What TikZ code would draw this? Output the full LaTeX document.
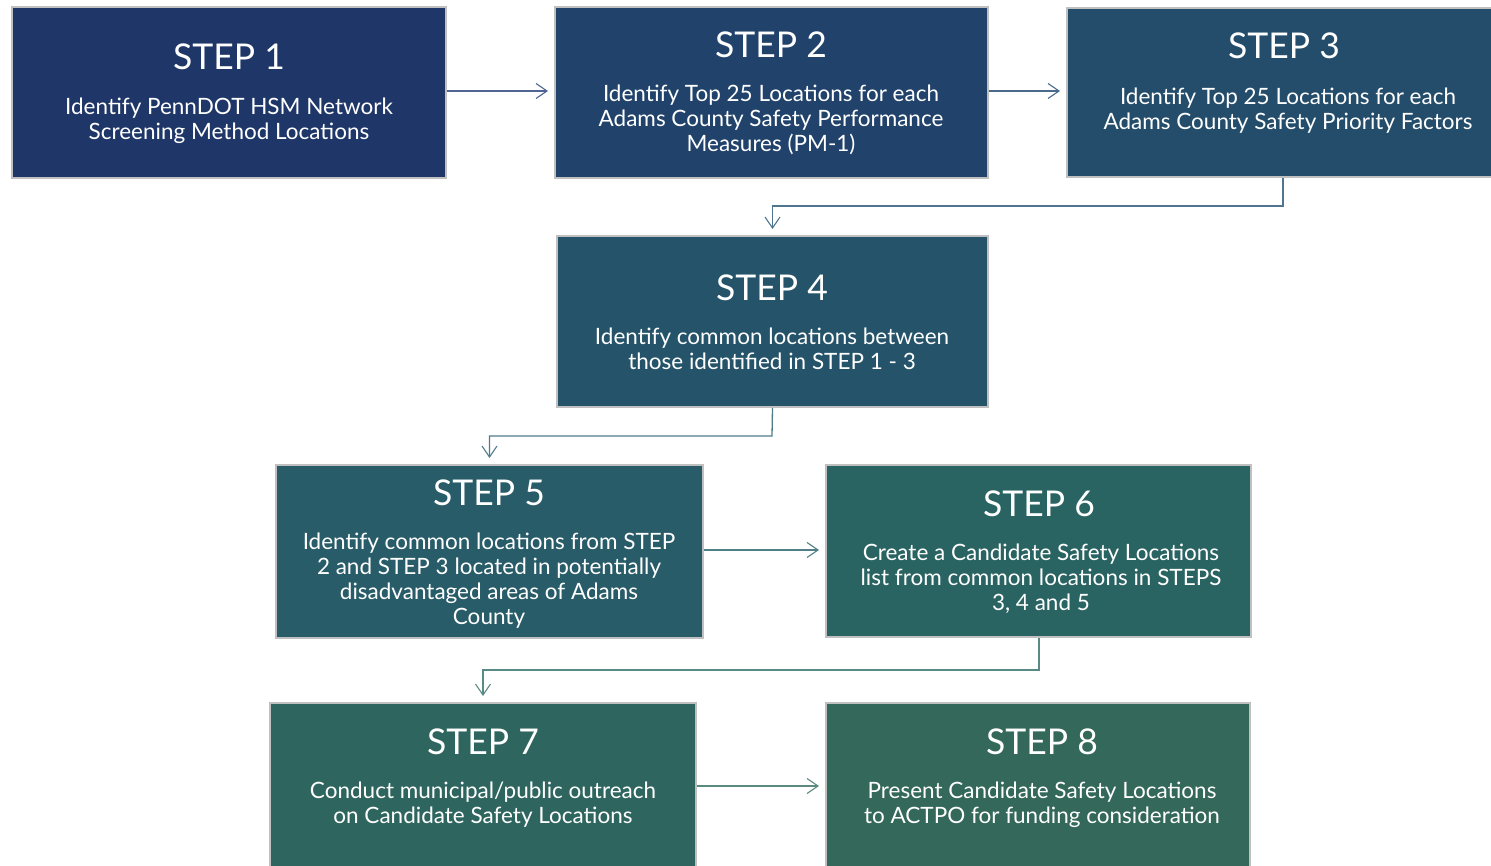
\documentclass[tikz,border=0pt]{standalone}
\usepackage{fontspec}
\setmainfont{Lato}
\usetikzlibrary{arrows.meta}
\definecolor{c1}{HTML}{1F3668}
\definecolor{c2}{HTML}{21436B}
\definecolor{c3}{HTML}{244D6B}
\definecolor{c4}{HTML}{25546A}
\definecolor{c5}{HTML}{285C68}
\definecolor{c6}{HTML}{2A6462}
\definecolor{c7}{HTML}{2E665F}
\definecolor{c8}{HTML}{33685A}
\definecolor{a1}{HTML}{4D6590}
\definecolor{a2}{HTML}{4A6A8C}
\definecolor{a3}{HTML}{4F7590}
\definecolor{a4}{HTML}{4F7C8A}
\definecolor{a5}{HTML}{4F8086}
\definecolor{a6}{HTML}{5A8A85}
\definecolor{a7}{HTML}{5A8A80}
\definecolor{edgegray}{HTML}{C0C0C0}
\tikzset{
  stepbox/.style={draw=edgegray, line width=2pt, rectangle, inner sep=0pt},
  steptitle/.style={text=white, inner sep=0pt, font=\fontsize{35.5}{38}\selectfont},
  stepbody/.style={text=white, inner sep=0pt, align=center, font=\fontsize{22.5}{25}\selectfont},
  conn/.style={line width=1.3pt, -{Straight Barb[length=11pt,width=15pt,line width=1.1pt]}},
}
\begin{document}
\begin{tikzpicture}[x=1pt,y=-1pt]
\useasboundingbox (0,0) rectangle (1491,866);
\clip (0,0) rectangle (1491,866);
% boxes
\node[stepbox, fill=c1, minimum width=434, minimum height=171] (s1) at (229,92.5) {};
\node[stepbox, fill=c2, minimum width=433, minimum height=171] (s2) at (771.5,92.5) {};
\node[stepbox, fill=c3, minimum width=433, minimum height=169] (s3) at (1283.5,92.5) {};
\node[stepbox, fill=c4, minimum width=431, minimum height=171] (s4) at (772.5,321.5) {};
\node[stepbox, fill=c5, minimum width=427, minimum height=173] (s5) at (489.5,551.5) {};
\node[stepbox, fill=c6, minimum width=425, minimum height=172] (s6) at (1038.5,551) {};
\node[stepbox, fill=c7, minimum width=426, minimum height=172] (s7) at (483,789) {};
\node[stepbox, fill=c8, minimum width=424, minimum height=172] (s8) at (1038,789) {};
% texts
\node[steptitle] (t1) at (229,57) {STEP 1};
\node[stepbody] (b1) at (229,121) {Identify PennDOT HSM Network\\Screening Method Locations};
\node[steptitle] (t2) at (771,45) {STEP 2};
\node[stepbody] (b2) at (771,120) {Identify Top 25 Locations for each\\Adams County Safety Performance\\Measures (PM-1)};
\node[steptitle] (t3) at (1284,46) {STEP 3};
\node[stepbody] (b3) at (1288,110.5) {Identify Top 25 Locations for each\\Adams County Safety Priority Factors};
\node[steptitle] (t4) at (772,288) {STEP 4};
\node[stepbody] (b4) at (772,349) {Identify common locations between\\those identified in STEP 1 - 3};
\node[steptitle] (t5) at (489,493) {STEP 5};
\node[stepbody] (b5) at (489,581) {Identify common locations from STEP\\2 and STEP 3 located in potentially\\disadvantaged areas of Adams\\County};
\node[steptitle] (t6) at (1039,504) {STEP 6};
\node[stepbody] (b6) at (1041,579) {Create a Candidate Safety Locations\\list from common locations in STEPS\\3, 4 and 5};
\node[steptitle] (t7) at (483,742) {STEP 7};
\node[stepbody] (b7) at (483,805) {Conduct municipal/public outreach\\on Candidate Safety Locations};
\node[steptitle] (t8) at (1042,742) {STEP 8};
\node[stepbody] (b8) at (1042,805) {Present Candidate Safety Locations\\to ACTPO for funding consideration};
% connectors
\coordinate (k3) at (1283,206);
\coordinate (k4) at (772,436);
\coordinate (k6) at (1039,670);
\draw[conn, a1] (s1.east |- 0,91) -- ([xshift=-6pt]s2.west |- 0,91);
\draw[conn, a2] (s2.east |- 0,91) -- ([xshift=-6pt]s3.west |- 0,91);
\draw[conn, a3] (s3.south -| k3) -- (k3) -- (k3 -| s4.north) -- ([yshift=6pt]s4.north);
\draw[conn, a4] (s4.south) -- (k4) -- (k4 -| s5.north) -- ([yshift=6pt]s5.north);
\draw[conn, a5] (s5.east |- 0,550) -- ([xshift=-6pt]s6.west |- 0,550);
\draw[conn, a6] (s6.south -| k6) -- (k6) -- (k6 -| s7.north) -- ([yshift=6pt]s7.north);
\draw[conn, a7] (s7.east |- 0,786) -- ([xshift=-6pt]s8.west |- 0,786);
\end{tikzpicture}
\end{document}
